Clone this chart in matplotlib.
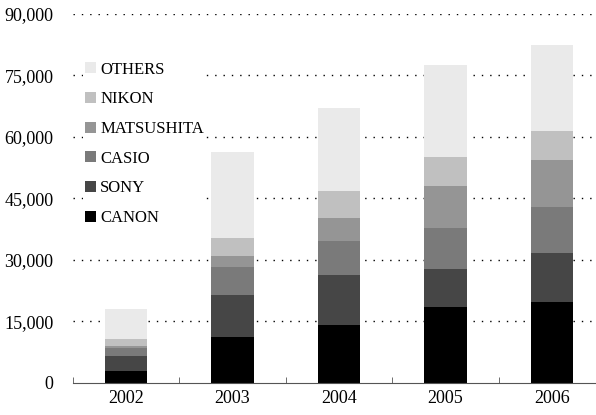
import matplotlib
matplotlib.use("Agg")
import matplotlib.pyplot as plt
import numpy as np
from matplotlib.patches import Patch

years = ["2002", "2003", "2004", "2005", "2006"]
series_names = ["CANON", "SONY", "CASIO", "MATSUSHITA", "NIKON", "OTHERS"]
canon = [2900, 11150, 14100, 18500, 19700]
sony = [3700, 10250, 12200, 9200, 12000]
casio = [1940, 6800, 8300, 10100, 11200]
matsushita = [490, 2700, 5600, 10200, 11500]
nikon = [1640, 4400, 6700, 7100, 7000]
others = [7320, 21000, 20200, 22400, 21000]
colors = ["#000000", "#464646", "#7a7a7a", "#959595", "#c0c0c0", "#eaeaea"]
yticks = [0, 15000, 30000, 45000, 60000, 75000, 90000]

plt.rcParams['font.family'] = ['Liberation Serif', 'DejaVu Serif']

fig = plt.figure(figsize=(5.96, 4.15), dpi=100)
ax = fig.add_axes([73/596, (415-382.7)/415, (605-73)/596, (382.7-14)/415])

data = [canon, sony, casio, matsushita, nikon, others]
x = np.arange(len(years))
bottom = np.zeros(len(years))
for name, vals, c in zip(series_names, data, colors):
    ax.bar(x, vals, width=0.4, bottom=bottom, color=c, label=name, zorder=3)
    bottom += np.array(vals)

ax.set_xlim(-0.5, len(years) - 0.5)
ax.set_ylim(0, 90000)
ax.set_yticks(yticks)
ax.set_yticklabels([f"{v:,}" for v in yticks], fontsize=13)
ax.set_xticks(x)
ax.set_xticklabels(years, fontsize=13)
ax.tick_params(axis='y', length=0, pad=14)
ax.tick_params(axis='x', length=0, pad=5)
# category boundary ticks
ax.set_xticks(np.arange(-0.5, len(years), 1.0), minor=True)
ax.tick_params(axis='x', which='minor', direction='in', length=4, color='#555555')

for s in ['top', 'right', 'left']:
    ax.spines[s].set_visible(False)
ax.spines['bottom'].set_color('#555555')
ax.spines['bottom'].set_zorder(4)

ax.yaxis.grid(True, color='black', linestyle=(0, (1, 5)), linewidth=1)
ax.set_axisbelow(True)
for gl in ax.get_ygridlines()[:1]:
    gl.set_visible(False)

handles = [Patch(facecolor=c, edgecolor='none') for c in colors][::-1]
labels = series_names[::-1]
leg = ax.legend(handles, labels, loc='upper left', bbox_to_anchor=(0.018, 0.8776),
                borderaxespad=0,
                frameon=True, fancybox=False, edgecolor='none', facecolor='white',
                framealpha=1, fontsize=12.0, handlelength=0.65, handleheight=0.65,
                handletextpad=0.25, labelspacing=0.82, borderpad=0.15)
leg.set_zorder(5)

fig.savefig("out.png", dpi=100)
